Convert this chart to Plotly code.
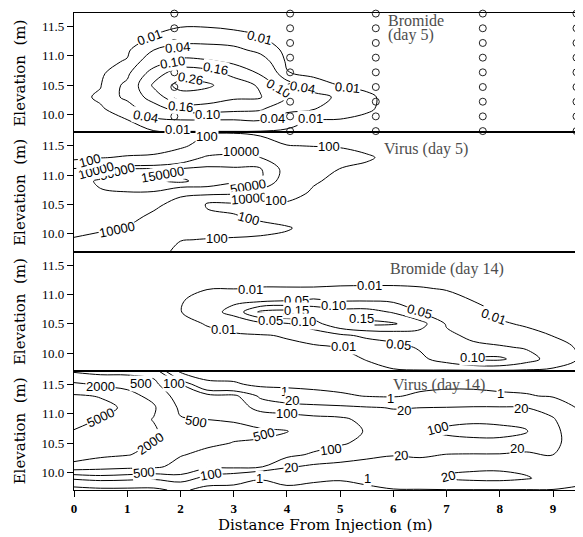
import numpy as np
import plotly.graph_objects as go
from plotly.subplots import make_subplots

# ---------------- data ----------------
distance = [0.0, 0.5, 1.0, 1.5, 2.0, 2.5, 3.0, 3.5, 4.0, 4.5, 5.0, 5.5, 6.0, 6.5, 7.0, 7.5, 8.0, 8.5, 9.0, 9.5]
elevation = [9.70, 9.90, 10.10, 10.30, 10.50, 10.70, 10.90, 11.10, 11.30, 11.50, 11.73]

# each inner list: one distance column, values from lowest to highest elevation
bromide_day5 = [
    [0.001, 0.002, 0.003, 0.004, 0.003, 0.002, 0.002, 0.001, 0.001, 0.001, 0.0005],
    [0.003, 0.005, 0.008, 0.013, 0.009, 0.006, 0.004, 0.003, 0.002, 0.001, 0.001],
    [0.005, 0.009, 0.02, 0.05, 0.05, 0.03, 0.012, 0.006, 0.003, 0.002, 0.001],
    [0.007, 0.03, 0.07, 0.13, 0.17, 0.13, 0.07, 0.04, 0.012, 0.005, 0.002],
    [0.008, 0.035, 0.13, 0.21, 0.30, 0.20, 0.12, 0.055, 0.025, 0.009, 0.003],
    [0.008, 0.035, 0.13, 0.20, 0.28, 0.19, 0.11, 0.055, 0.025, 0.009, 0.003],
    [0.008, 0.035, 0.12, 0.17, 0.20, 0.14, 0.09, 0.05, 0.02, 0.006, 0.002],
    [0.007, 0.04, 0.11, 0.165, 0.15, 0.095, 0.06, 0.03, 0.012, 0.004, 0.001],
    [0.006, 0.02, 0.05, 0.105, 0.06, 0.012, 0.006, 0.003, 0.001, 0.0005, 0.0005],
    [0.004, 0.009, 0.042, 0.05, 0.025, 0.003, 0.001, 0.001, 0.0005, 0.0005, 0.0005],
    [0.003, 0.008, 0.025, 0.035, 0.009, 0.002, 0.001, 0.0005, 0.0005, 0.0005, 0.0005],
    [0.002, 0.005, 0.013, 0.014, 0.005, 0.001, 0.0005, 0.0005, 0.0005, 0.0005, 0.0005],
    [0.001, 0.002, 0.003, 0.003, 0.002, 0.001, 0.0005, 0.0005, 0.0005, 0.0005, 0.0005],
    [0.0005, 0.0005, 0.0005, 0.0005, 0.0005, 0.0005, 0.0005, 0.0005, 0.0005, 0.0005, 0.0005],
    [0.0005, 0.0005, 0.0005, 0.0005, 0.0005, 0.0005, 0.0005, 0.0005, 0.0005, 0.0005, 0.0005],
    [0.0005, 0.0005, 0.0005, 0.0005, 0.0005, 0.0005, 0.0005, 0.0005, 0.0005, 0.0005, 0.0005],
    [0.0005, 0.0005, 0.0005, 0.0005, 0.0005, 0.0005, 0.0005, 0.0005, 0.0005, 0.0005, 0.0005],
    [0.0005, 0.0005, 0.0005, 0.0005, 0.0005, 0.0005, 0.0005, 0.0005, 0.0005, 0.0005, 0.0005],
    [0.0005, 0.0005, 0.0005, 0.0005, 0.0005, 0.0005, 0.0005, 0.0005, 0.0005, 0.0005, 0.0005],
    [0.0005, 0.0005, 0.0005, 0.0005, 0.0005, 0.0005, 0.0005, 0.0005, 0.0005, 0.0005, 0.0005],
]

virus_day5 = [
    [3000, 9000, 15000, 20000, 25000, 30000, 30000, 15000, 30, 10, 5],
    [1500, 6000, 13000, 20000, 30000, 45000, 60000, 20000, 80, 10, 5],
    [800, 3000, 9000, 18000, 30000, 48000, 80000, 60000, 150, 10, 5],
    [300, 1000, 3000, 7000, 15000, 45000, 120000, 70000, 200, 15, 5],
    [50, 110, 400, 1500, 5000, 15000, 200000, 60000, 2000, 40, 20],
    [30, 90, 300, 250, 60, 30000, 80000, 70000, 15000, 800, 60],
    [30, 80, 250, 120, 50, 20000, 60000, 60000, 20000, 1500, 80],
    [20, 70, 200, 60, 80, 5000, 60000, 60000, 10000, 600, 50],
    [15, 60, 120, 40, 60, 500, 3000, 5000, 2000, 110, 20],
    [10, 30, 50, 30, 30, 60, 150, 800, 600, 90, 15],
    [10, 20, 30, 25, 25, 30, 40, 90, 300, 80, 10],
    [10, 15, 20, 20, 20, 25, 30, 50, 150, 40, 10],
    [10, 10, 12, 12, 12, 15, 15, 20, 40, 20, 10],
    [10, 10, 10, 10, 10, 10, 10, 10, 10, 10, 10],
    [10, 10, 10, 10, 10, 10, 10, 10, 10, 10, 10],
    [10, 10, 10, 10, 10, 10, 10, 10, 10, 10, 10],
    [10, 10, 10, 10, 10, 10, 10, 10, 10, 10, 10],
    [10, 10, 10, 10, 10, 10, 10, 10, 10, 10, 10],
    [10, 10, 10, 10, 10, 10, 10, 10, 10, 10, 10],
    [10, 10, 10, 10, 10, 10, 10, 10, 10, 10, 10],
]

bromide_day14 = [
    [0.001, 0.001, 0.001, 0.001, 0.001, 0.001, 0.001, 0.001, 0.001, 0.001, 0.001],
    [0.001, 0.001, 0.001, 0.001, 0.001, 0.001, 0.001, 0.001, 0.001, 0.001, 0.001],
    [0.001, 0.001, 0.001, 0.001, 0.001, 0.001, 0.001, 0.001, 0.001, 0.001, 0.001],
    [0.001, 0.001, 0.001, 0.001, 0.002, 0.003, 0.003, 0.002, 0.001, 0.001, 0.001],
    [0.001, 0.001, 0.002, 0.003, 0.005, 0.009, 0.008, 0.004, 0.002, 0.001, 0.001],
    [0.001, 0.002, 0.003, 0.006, 0.011, 0.03, 0.02, 0.009, 0.003, 0.001, 0.001],
    [0.001, 0.002, 0.004, 0.007, 0.02, 0.065, 0.04, 0.009, 0.003, 0.001, 0.001],
    [0.001, 0.002, 0.005, 0.008, 0.035, 0.16, 0.035, 0.011, 0.003, 0.001, 0.001],
    [0.001, 0.002, 0.005, 0.012, 0.045, 0.17, 0.045, 0.011, 0.003, 0.001, 0.001],
    [0.002, 0.003, 0.007, 0.02, 0.08, 0.14, 0.055, 0.011, 0.003, 0.001, 0.001],
    [0.002, 0.004, 0.0105, 0.04, 0.14, 0.12, 0.045, 0.012, 0.003, 0.001, 0.001],
    [0.004, 0.011, 0.02, 0.06, 0.16, 0.12, 0.045, 0.012, 0.004, 0.001, 0.001],
    [0.008, 0.02, 0.035, 0.07, 0.155, 0.095, 0.04, 0.012, 0.004, 0.001, 0.001],
    [0.008, 0.04, 0.055, 0.08, 0.12, 0.048, 0.02, 0.011, 0.004, 0.001, 0.001],
    [0.006, 0.07, 0.065, 0.06, 0.045, 0.03, 0.015, 0.009, 0.003, 0.001, 0.001],
    [0.006, 0.105, 0.06, 0.04, 0.03, 0.02, 0.0095, 0.005, 0.002, 0.001, 0.001],
    [0.006, 0.11, 0.055, 0.025, 0.012, 0.007, 0.004, 0.002, 0.001, 0.001, 0.001],
    [0.005, 0.07, 0.045, 0.015, 0.008, 0.004, 0.002, 0.001, 0.001, 0.001, 0.001],
    [0.004, 0.03, 0.02, 0.0095, 0.005, 0.003, 0.001, 0.001, 0.001, 0.001, 0.001],
    [0.003, 0.008, 0.007, 0.004, 0.002, 0.001, 0.001, 0.001, 0.001, 0.001, 0.001],
]

virus_day14 = [
    [0.3, 30, 1500, 3000, 4000, 4800, 6500, 7000, 5500, 2500, 400],
    [0.5, 50, 1000, 2500, 3000, 3800, 4800, 6000, 4800, 1700, 300],
    [0.5, 40, 800, 2100, 2800, 3200, 3500, 4500, 2800, 1500, 300],
    [0.5, 30, 700, 1500, 1900, 2300, 1900, 2300, 1500, 700, 300],
    [2, 60, 300, 550, 800, 900, 550, 400, 250, 110, 0.5],
    [0.3, 10, 150, 350, 650, 800, 500, 350, 200, 2, 0.2],
    [0.3, 5, 150, 300, 480, 700, 450, 250, 150, 1.5, 0.2],
    [0.3, 1.2, 130, 300, 450, 600, 300, 60, 15, 0.5, 0.2],
    [0.5, 3, 25, 150, 300, 520, 200, 50, 5, 0.5, 0.2],
    [0.5, 1.5, 15, 80, 200, 250, 150, 40, 3, 0.4, 0.2],
    [0.5, 1.2, 12, 50, 120, 180, 130, 35, 1.5, 0.4, 0.2],
    [0.6, 2, 10, 30, 70, 90, 70, 25, 0.9, 0.4, 0.2],
    [0.9, 3, 8, 22, 40, 50, 45, 18, 0.8, 0.4, 0.2],
    [0.9, 5, 10, 25, 60, 90, 60, 20, 1.5, 0.5, 0.3],
    [0.9, 25, 12, 19, 60, 130, 70, 22, 2, 0.6, 0.3],
    [0.9, 40, 12, 18, 70, 150, 80, 25, 2, 0.6, 0.3],
    [0.9, 45, 12, 18, 70, 150, 70, 25, 1.5, 0.5, 0.3],
    [0.9, 25, 10, 15, 50, 110, 60, 20, 1.2, 0.5, 0.3],
    [0.9, 8, 10, 21, 30, 35, 25, 8, 0.8, 0.4, 0.3],
    [0.8, 1.5, 2, 5, 8, 5, 2, 0.7, 0.4, 0.3, 0.2],
]

bromide_day5_levels = [0.01, 0.04, 0.10, 0.16, 0.26]
virus_day5_levels = [100, 10000, 50000, 150000]
bromide_day14_levels = [0.01, 0.05, 0.10, 0.15]
virus_day14_levels = [1, 20, 100, 500, 2000, 5000]

well_x = [1.885, 4.06, 5.67, 7.68, 9.44]
well_y = [9.72, 9.97, 10.22, 10.47, 10.72, 10.97, 11.22, 11.47, 11.72]

x_ticks = [0, 1, 2, 3, 4, 5, 6, 7, 8, 9]
y_ticks = [10.0, 10.5, 11.0, 11.5]

# ---------------- figure ----------------
fig = make_subplots(rows=4, cols=1, shared_xaxes=True, vertical_spacing=0)

panels = [
    (bromide_day5, bromide_day5_levels, False),
    (virus_day5, virus_day5_levels, True),
    (bromide_day14, bromide_day14_levels, False),
    (virus_day14, virus_day14_levels, True),
]

for r, (cols, levels, use_log) in enumerate(panels, start=1):
    z = np.array(cols, dtype=float).T
    if use_log:
        z = np.log10(z)
    for lv in levels:
        v = float(np.log10(lv)) if use_log else lv
        fig.add_trace(go.Contour(
            x=distance, y=elevation, z=z,
            autocontour=False,
            contours=dict(start=v, end=v, size=1, coloring='none', showlines=True),
            line=dict(color='black', width=1, smoothing=1.0),
            showscale=False, hoverinfo='skip'), row=r, col=1)

wx, wy = [], []
for xv in well_x:
    for yv in well_y:
        wx.append(xv)
        wy.append(yv)
fig.add_trace(go.Scatter(x=wx, y=wy, mode='markers', cliponaxis=False,
                         marker=dict(symbol='circle-open', size=7, color='#222',
                                     line=dict(width=1, color='#222')),
                         hoverinfo='skip', showlegend=False), row=1, col=1)

# contour labels: (text, x, y, angle)
labels = {
    1: [("0.01", 1.41, 11.31, -20), ("0.04", 1.94, 11.15, -5), ("0.10", 1.85, 10.88, -10),
        ("0.16", 2.66, 10.78, 10), ("0.26", 2.19, 10.62, 10), ("0.16", 2.0, 10.14, 5),
        ("0.10", 2.5, 10.0, 0), ("0.04", 1.35, 9.97, 10), ("0.01", 3.48, 11.31, 15),
        ("0.10", 3.85, 10.45, 30), ("0.04", 3.73, 9.93, 0), ("0.04", 4.3, 10.47, 10),
        ("0.01", 5.13, 10.47, 5), ("0.01", 4.44, 9.94, 0), ("0.01", 1.95, 9.74, 0)],
    2: [("100", 2.5, 11.66, 0), ("10000", 3.13, 11.41, 0), ("100", 4.8, 11.49, 0),
        ("50000", 0.81, 11.07, -15), ("10000", 0.42, 11.08, -15), ("100", 0.3, 11.25, -15),
        ("150000", 1.66, 11.01, -10), ("50000", 3.26, 10.81, -10), ("10000", 3.29, 10.6, -5),
        ("100", 3.8, 10.56, 0), ("100", 3.29, 10.27, 15), ("10000", 0.81, 10.07, -12),
        ("100", 2.69, 9.92, 0)],
    3: [("0.01", 3.31, 11.08, 0), ("0.01", 5.56, 11.15, 0), ("0.05", 4.18, 10.90, 0),
        ("0.10", 4.87, 10.81, 0), ("0.15", 4.18, 10.72, 0), ("0.05", 3.7, 10.55, 0),
        ("0.10", 4.31, 10.54, 0), ("0.15", 5.41, 10.59, 0), ("0.05", 6.5, 10.71, 15),
        ("0.01", 7.88, 10.62, 20), ("0.05", 6.1, 10.14, 5), ("0.01", 5.06, 10.11, 0),
        ("0.01", 2.81, 10.4, 0), ("0.10", 7.48, 9.92, 0)],
    4: [("2000", 0.5, 11.46, 0), ("500", 1.25, 11.52, 0), ("100", 1.88, 11.52, 0),
        ("5000", 0.5, 10.94, -25), ("500", 2.29, 10.86, 10), ("2000", 1.44, 10.49, -35),
        ("500", 3.57, 10.64, -15), ("100", 4.82, 10.39, -8), ("500", 1.32, 10.0, -5),
        ("100", 2.57, 9.97, -10), ("20", 4.07, 10.08, -5), ("1", 3.48, 9.9, 0),
        ("1", 5.51, 9.9, 0), ("1", 3.95, 11.37, 0), ("20", 4.1, 11.23, 0),
        ("100", 4.01, 11.01, 0), ("1", 5.95, 11.26, 0), ("20", 6.2, 11.06, 0),
        ("1", 8.02, 11.34, 0), ("20", 8.4, 11.09, 0), ("100", 6.83, 10.75, -15),
        ("20", 6.14, 10.28, -5), ("20", 8.33, 10.41, 0), ("20", 7.02, 9.93, -15)],
}

annotations = []
for r, items in labels.items():
    xr = 'x' if r == 1 else 'x%d' % r
    yr = 'y' if r == 1 else 'y%d' % r
    for text, xv, yv, ang in items:
        annotations.append(dict(text=text, x=xv, y=yv, xref=xr, yref=yr, showarrow=False,
                                textangle=ang, bgcolor='white', borderpad=0,
                                font=dict(family='Liberation Sans, Arial', size=13, color='black')))

title_font = dict(family='Liberation Serif, Times New Roman', size=16, color='#4d4d4d')
panel_titles = [
    (1, "Bromide", 5.87, 11.60), (1, "(day 5)", 5.87, 11.36),
    (2, "Virus (day 5)", 5.78, 11.45),
    (3, "Bromide (day 14)", 5.9, 11.44),
    (4, "Virus (day 14)", 5.95, 11.49),
]
for r, text, xv, yv in panel_titles:
    xr = 'x' if r == 1 else 'x%d' % r
    yr = 'y' if r == 1 else 'y%d' % r
    annotations.append(dict(text=text, x=xv, y=yv, xref=xr, yref=yr, showarrow=False,
                            xanchor='left', yanchor='middle', font=title_font))

axis_title_font = dict(family='DejaVu Serif', size=15, color='black')
for i, yc in enumerate([0.875, 0.625, 0.375, 0.125]):
    annotations.append(dict(text='Elevation\u00a0\u00a0(m)', x=-0.1074, y=yc, xref='paper', yref='paper',
                            showarrow=False, textangle=-90, xanchor='center', yanchor='middle',
                            font=axis_title_font))
annotations.append(dict(text='Distance From Injection (m)', x=0.5, y=-0.073, xref='paper', yref='paper',
                        showarrow=False, xanchor='center', yanchor='middle', font=axis_title_font))

# page body has an 8px margin, so the figure is sized to fit inside the window
fig.update_layout(
    width=575, height=529,
    margin=dict(l=66, r=6, t=5, b=47),
    plot_bgcolor='white', paper_bgcolor='white',
    showlegend=False,
    annotations=annotations,
)

for r in range(1, 5):
    fig.update_yaxes(range=[9.70, 11.73], tickvals=y_ticks, tickformat='.1f',
                     ticks='outside', ticklen=6, tickwidth=1, tickcolor='black',
                     showline=True, linewidth=1.1, linecolor='black', mirror=True,
                     showgrid=False, zeroline=False,
                     tickfont=dict(family='Liberation Serif, Times New Roman', size=13, color='black'),
                     row=r, col=1)
    fig.update_xaxes(range=[0, 9.45], showline=True, linewidth=1.1, linecolor='black', mirror=True,
                     showgrid=False, zeroline=False, row=r, col=1)
    if r < 4:
        fig.update_xaxes(ticks='', showticklabels=False, row=r, col=1)

fig.update_xaxes(tickvals=x_ticks, ticks='outside', ticklen=6, tickwidth=1, tickcolor='black',
                 showticklabels=True,
                 tickfont=dict(family='Liberation Serif, Times New Roman', size=13, color='black', weight='bold'),
                 row=4, col=1)

fig.write_html("out.html")
